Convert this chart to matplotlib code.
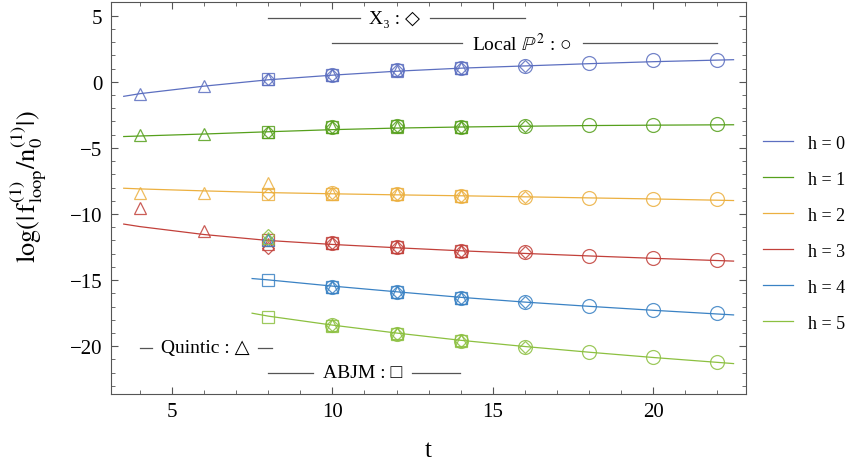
# log|f_loop/n_0| vs t for several geometries, h = 0..5

import matplotlib.pyplot as plt
from matplotlib.ticker import MultipleLocator, FuncFormatter

plt.rcParams.update({
    "font.family": ["Liberation Serif", "DejaVu Serif"],
    "mathtext.fontset": "stix",
    "font.size": 14,
})

h_labels = ["h = 0", "h = 1", "h = 2", "h = 3", "h = 4", "h = 5"]
colors = ["#5c6fc0", "#56a01c", "#ecb040", "#c2403a", "#3a82c4", "#8cc040"]

# fitted curves
fit_t = [
    [3.5, 4, 6, 8, 10, 12, 14, 16, 18, 20, 22.5],
    [3.5, 4, 6, 8, 10, 12, 14, 16, 18, 20, 22.5],
    [3.5, 4, 6, 8, 10, 12, 14, 16, 18, 20, 22.5],
    [3.5, 4, 6, 8, 10, 12, 14, 16, 18, 20, 22.5],
    [7.5, 8, 10, 12, 14, 16, 18, 20, 22.5],
    [7.5, 8, 10, 12, 14, 16, 18, 20, 22.5],
]
fit_y = [
    [-1.1, -0.9, -0.33, 0.15, 0.5, 0.8, 1.03, 1.2, 1.37, 1.52, 1.67],
    [-4.14, -4.1, -3.95, -3.78, -3.62, -3.5, -3.42, -3.36, -3.31, -3.28, -3.25],
    [-8.05, -8.1, -8.25, -8.38, -8.47, -8.55, -8.62, -8.7, -8.78, -8.86, -8.98],
    [-10.76, -10.95, -11.55, -12.0, -12.3, -12.55, -12.78, -12.98, -13.17, -13.35, -13.56],
    [-14.88, -14.98, -15.45, -15.88, -16.3, -16.66, -16.98, -17.28, -17.63],
    [-17.5, -17.72, -18.4, -19.0, -19.55, -20.02, -20.45, -20.85, -21.31],
]

# Quintic (triangles)
tri_t = [4, 6, 8, 10, 12, 14]
tri_y = [
    [-0.91, -0.33, 0.2, 0.5, 0.85, 1.05],
    [-4.04, -3.94, -3.76, -3.45, -3.4, -3.42],
    [-8.38, -8.38, -7.63, -8.45, -8.5, -8.6],
    [-9.55, -11.3, -12.3, -12.2, -12.5, -12.78],
    [None, None, -12.0, -15.5, -15.9, -16.35],
    [None, None, -11.8, -18.4, -19.0, -19.55],
]

# ABJM (squares)
sq_t = [8, 10, 12, 14]
sq_y = [
    [0.2, 0.53, 0.88, 1.06],
    [-3.76, -3.45, -3.38, -3.42],
    [-8.5, -8.45, -8.5, -8.6],
    [-12.0, -12.2, -12.52, -12.78],
    [-14.97, -15.5, -15.9, -16.36],
    [-17.75, -18.45, -19.1, -19.6],
]

# X3 (diamonds)
dia_t = [8, 10, 12, 14, 16]
dia_y = [
    [0.2, 0.53, 0.89, 1.06, 1.19],
    [-3.76, -3.43, -3.36, -3.41, -3.31],
    [-8.45, -8.43, -8.48, -8.61, -8.71],
    [-12.6, -12.2, -12.52, -12.78, -12.9],
    [-12.0, -15.5, -15.89, -16.36, -16.69],
    [-11.55, -18.41, -19.04, -19.57, -20.05],
]

# Local P2 (circles)
circ_t = [10, 12, 14, 16, 18, 20, 22]
circ_y = [
    [0.53, 0.89, 1.06, 1.19, 1.39, 1.61, 1.67],
    [-3.43, -3.36, -3.41, -3.31, -3.26, -3.26, -3.18],
    [-8.43, -8.48, -8.61, -8.71, -8.81, -8.86, -8.9],
    [-12.2, -12.52, -12.78, -12.9, -13.16, -13.3, -13.46],
    [-15.5, -15.89, -16.36, -16.69, -16.99, -17.25, -17.5],
    [-18.41, -19.04, -19.57, -20.05, -20.45, -20.8, -21.19],
]

fig = plt.figure(figsize=(8.53, 4.64), dpi=100)
ax = fig.add_axes([0.130, 0.149, 0.745, 0.845])

mk = dict(linestyle="none", markerfacecolor="none", alpha=0.85, markeredgewidth=0.9)
for i in range(6):
    c = colors[i]
    ax.plot(fit_t[i], fit_y[i], color=c, lw=0.9, label=h_labels[i])
    pts = [(t, y) for t, y in zip(tri_t, tri_y[i]) if y is not None]
    ax.plot([p[0] for p in pts], [p[1] for p in pts], marker="^", ms=9, color=c, **mk)
    ax.plot(sq_t, sq_y[i], marker="s", ms=8, color=c, **mk)
    ax.plot(dia_t, dia_y[i], marker="D", ms=6.5, color=c, **mk)
    ax.plot(circ_t, circ_y[i], marker="o", ms=10, color=c, **mk)

ax.set_xlim(3.1, 22.9)
ax.set_ylim(-23.6, 6.05)
ax.xaxis.set_major_locator(MultipleLocator(5))
ax.xaxis.set_minor_locator(MultipleLocator(1))
ax.yaxis.set_major_locator(MultipleLocator(5))
ax.yaxis.set_minor_locator(MultipleLocator(1))
ax.yaxis.set_major_formatter(FuncFormatter(lambda v, p: f"\u2212{-v:g}" if v < 0 else f"{v:g}"))
ax.tick_params(which="both", direction="in", top=True, right=True, color="#555555")
ax.tick_params(which="major", length=5, labelsize=15, pad=6)
ax.tick_params(which="minor", length=3)
for s in ax.spines.values():
    s.set_color("#555555")

ax.set_xlabel("t", fontsize=18)
ax.xaxis.set_label_coords(0.5, -0.115)
ax.set_ylabel(r"$\log(|\,\mathrm{f}^{(1)}_{\mathrm{loop}}/\mathrm{n}^{(1)}_{0}|)$", fontsize=19)
ax.yaxis.set_label_coords(-0.098, 0.53)

# model labels with lines
lc = "#555555"
sym_font = ["Liberation Serif", "DejaVu Sans"]

def tag(x0, x1, x2, x3, y, text):
    ax.plot([x0, x1], [y, y], color=lc, lw=0.9)
    ax.plot([x2, x3], [y, y], color=lc, lw=0.9)
    ax.text((x1 + x2) / 2, y, text, ha="center", va="center", fontsize=14,
            family=sym_font)

tag(8.0, 10.85, 13.04, 16.0, 4.8, "X\u2083 : \u25c7")
tag(9.98, 14.03, 17.8, 21.98, 2.9, "Local $\\mathbb{P}^2$ : \u25cb")
tag(4.0, 4.38, 7.68, 8.12, -20.1, "Quintic : \u25b3")
tag(8.0, 9.39, 12.47, 13.97, -22.0, "ABJM : \u25a1")

ax.legend(loc="center left", bbox_to_anchor=(1.0, 0.41), frameon=False,
          fontsize=13, handlelength=1.7, labelspacing=1.05)

fig.savefig("out.png", dpi=100)
